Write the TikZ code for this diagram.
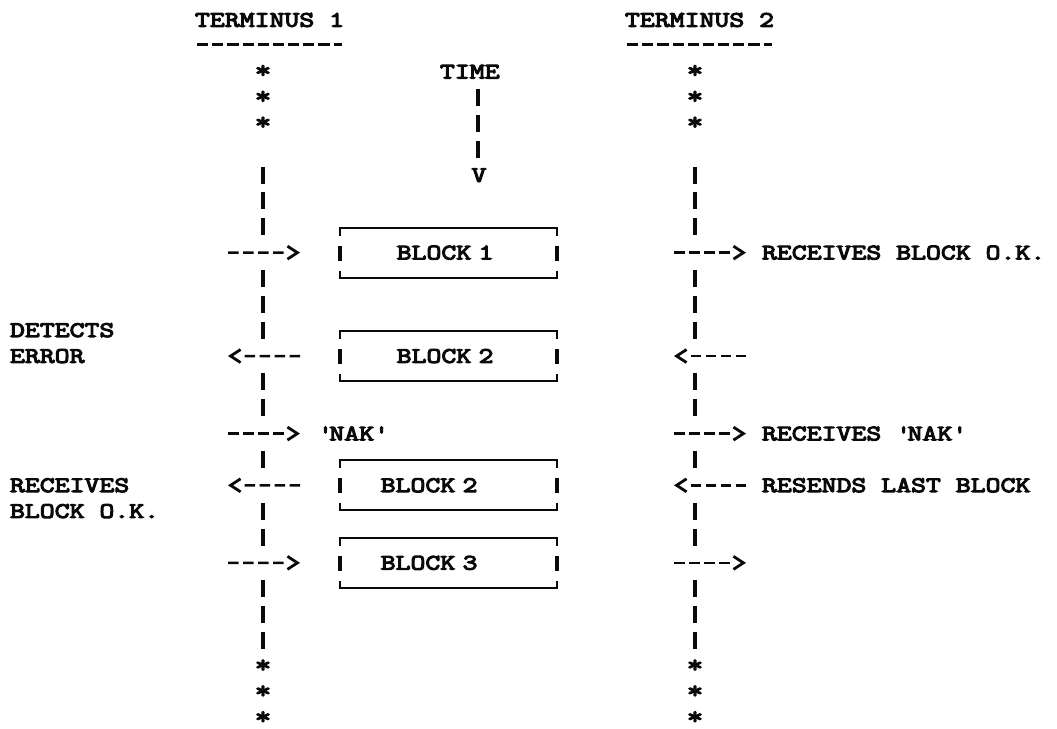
\documentclass[tikz,border=0pt]{standalone}
\usepackage{fontspec}
\newfontfamily\typewriter{Latin Modern Mono}[FakeStretch=1.31, FakeBold=5]
\usetikzlibrary{arrows.meta}
\definecolor{ink}{gray}{0.04}
% a star lowered onto its row centre, with a box that hugs the glyph
\newcommand{\rowstar}{{\fontsize{24}{24}\selectfont\raisebox{-6.1pt}[5.5pt][5.5pt]{*}}}

\begin{document}
\begin{tikzpicture}[x=1pt, y=-1pt,
  every node/.style={inner sep=0pt, outer sep=0pt},
  tw/.style={font=\typewriter\fontsize{22.1}{25.85}\selectfont, text=ink},
  lbl/.style={tw, anchor=base west},
  glyph/.style={tw, anchor=base},
  blk/.style={tw, minimum width=217pt, minimum height=50pt, text width=217pt, align=left},
  ticks/.style={draw=ink, line width=3.2pt, dash pattern=on 17pt off 8.85pt,
                shorten <=17.35pt, shorten >=17.35pt},
  uline/.style={draw=ink, line width=2.6pt, dash pattern=on 11.2pt off 3.98pt},
  msg/.style={draw=ink, line width=2.4pt,
              dash pattern=on 10.5pt off 4.5pt on 10.5pt off 4.5pt on 10.5pt off 4.5pt on 10.5pt off 40pt,
              -{Straight Barb[length=10pt, width=13pt, line width=2.8pt]}},
  frame/.style={draw=ink, line width=2pt},
  bar/.style={draw=ink, line width=3.1pt}
]
\useasboundingbox (0,0) rectangle (1057,728);

% column headings
\node[lbl] (t1) at (195,26.75) {TERMINUS 1};
\node[lbl] (t2) at (625,26.75) {TERMINUS 2};
\draw[uline] ([xshift=2pt,yshift=-17.8pt]t1.base west) -- ([xshift=-2pt,yshift=-17.8pt]t1.base east);
\draw[uline] ([xshift=2pt,yshift=-17.8pt]t2.base west) -- ([xshift=-2pt,yshift=-17.8pt]t2.base east);

% continuation stars above and below both lifelines
\foreach \r in {2,3,4,25,26,27}{
  \node[glyph] (sl\r) at (263,{20+25.85*\r}) {\rowstar};
  \node[glyph] (sr\r) at (695,{20+25.85*\r}) {\rowstar};
}

% time direction
\node[lbl] (time) at (440,78.45) {TIME};
\node[glyph] (vee) at (479,181.85) {V};
\coordinate (tm) at (478,71.7);
\draw[ticks] (tm) -- (tm |- vee.center);

% lifeline points at the message rows
\foreach \r in {5,9,13,16,18,21,25}{
  \coordinate (L\r) at (263,{20+25.85*\r});
  \coordinate (R\r) at (695,{20+25.85*\r});
}
\foreach \a/\b in {5/9,9/13,13/16,16/18,18/21,21/25}{
  \draw[ticks] (L\a) -- (L\b);
  \draw[ticks] (R\a) -- (R\b);
}

% arrow ends
\foreach \r in {9,13,16,18,21}{
  \coordinate (la\r) at (228,{20+25.85*\r});
  \coordinate (ra\r) at (674,{20+25.85*\r});
  \coordinate (rb\r) at (746,{20+25.85*\r});
}

% transmitted blocks
\node[blk] (b1) at (448.5,252.65) {\hspace*{56.7pt}BLOCK 1};
\node[blk] (b2) at (448.5,356.05) {\hspace*{56.7pt}BLOCK 2};
\node[blk] (b3) at (448.5,485.3) {\hspace*{40.7pt}BLOCK 2};
\node[blk] (b4) at (448.5,562.85) {\hspace*{40.7pt}BLOCK 3};
\foreach \b in {b1,b2,b3,b4}{
  \draw[frame] ([yshift=-8pt]\b.north west) -- (\b.north west) -- (\b.north east) -- ([yshift=-8pt]\b.north east);
  \draw[frame] ([yshift=7pt]\b.south west) -- (\b.south west) -- (\b.south east) -- ([yshift=7pt]\b.south east);
  \draw[bar] ([yshift=7pt]\b.west) -- ([yshift=-8pt]\b.west);
  \draw[bar] ([yshift=7pt]\b.east) -- ([yshift=-8pt]\b.east);
}

% remarks
\node[lbl] (nak) at (318,440.35) {\textquotesingle NAK\textquotesingle};
\node[lbl] (det) at (10,336.95) {DETECTS};
\node[lbl] (err) at (10,362.8) {ERROR};
\node[lbl] (rcv) at (10,492.05) {RECEIVES};
\node[lbl] (bok) at (10,517.9) {BLOCK O.K.};
\node[lbl] (ok1) at (762,259.4) {RECEIVES BLOCK O.K.};
\node[lbl] (nak2) at (762,440.35) {RECEIVES \textquotesingle NAK\textquotesingle};
\node[lbl] (rsd) at (762,492.05) {RESENDS LAST BLOCK};

% messages at terminus 1
\draw[msg, shorten >=40pt] (la9) -- (b1.west);
\draw[msg, shorten <=40pt] (b2.west) -- (la13);
\draw[msg, shorten >=18pt] (la16) -- (la16 -| nak.west);
\draw[msg, shorten <=40pt] (b3.west) -- (la18);
\draw[msg, shorten >=40pt] (la21) -- (b4.west);

% messages at terminus 2
\draw[msg, shorten >=16pt] (ra9) -- (ra9 -| ok1.west);
\draw[msg] (rb13) -- (ra13);
\draw[msg, shorten >=16pt] (ra16) -- (ra16 -| nak2.west);
\draw[msg, shorten <=16pt] (ra18 -| rsd.west) -- (ra18);
\draw[msg] (ra21) -- (rb21);
\end{tikzpicture}
\end{document}
